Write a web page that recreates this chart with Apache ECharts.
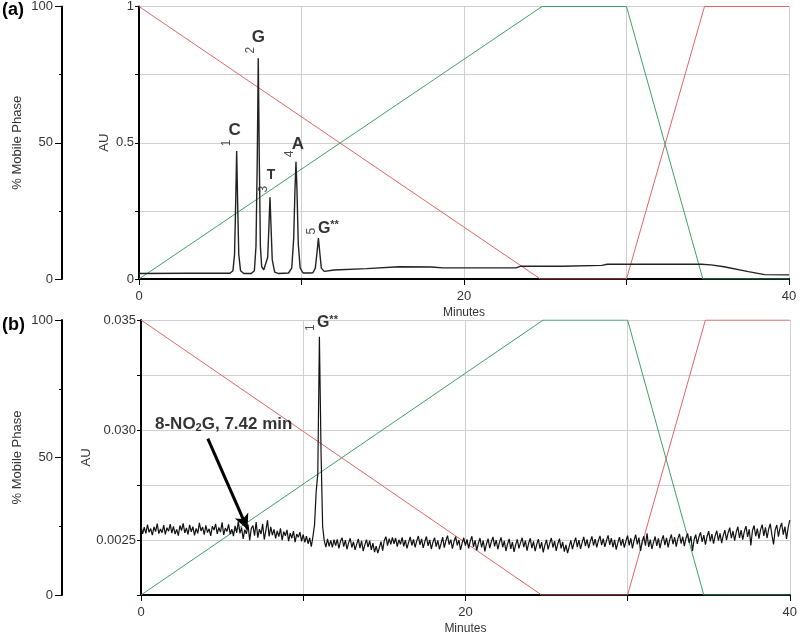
<!DOCTYPE html>
<html>
<head>
<meta charset="utf-8">
<script src="https://cdn.jsdelivr.net/npm/echarts@6/dist/echarts.min.js"></script>
<style>
html,body{margin:0;padding:0;background:#fff;}
#c{width:800px;height:636px;}
</style>
</head>
<body>
<div id="c"></div>
<script>
// ---------- DATA ----------
// Mobile-phase gradient (% of mobile phase vs minutes)
const gradRed   = [[0,100],[24.7,0],[30,0],[34.8,100],[40,100]];
const gradGreen = [[0,0],[24.8,100],[30,100],[34.7,0],[40,0]];

// Panel (a) chromatogram, [minutes, AU]
const traceA = [
 [0,0.020],[3,0.021],[5.6,0.021],[5.78,0.030],[5.88,0.090],[5.95,0.280],[6.01,0.470],[6.07,0.280],[6.14,0.090],[6.25,0.030],[6.45,0.020],
 [6.9,0.020],[7.1,0.030],[7.2,0.120],[7.28,0.450],[7.34,0.810],[7.40,0.450],[7.47,0.120],[7.55,0.045],[7.68,0.034],
 [7.8,0.036],[7.92,0.080],[8.0,0.200],[8.06,0.300],[8.12,0.200],[8.2,0.070],[8.35,0.025],[8.6,0.020],
 [9.2,0.022],[9.4,0.040],[9.52,0.150],[9.6,0.330],[9.66,0.430],[9.72,0.330],[9.8,0.130],[9.92,0.040],[10.1,0.022],[10.5,0.022],
 [10.7,0.023],[10.85,0.040],[10.96,0.100],[11.04,0.150],[11.12,0.100],[11.22,0.040],[11.4,0.028],[12,0.033],
 [14,0.038],[16,0.045],[18,0.044],[18.7,0.041],[23.2,0.041],[23.5,0.047],[26,0.047],[28.5,0.050],[28.8,0.054],[34.6,0.054],
 [35.2,0.052],[36,0.045],[37.5,0.027],[38.5,0.016],[40,0.015]
];
const peakTimeA   = [6.01, 7.34, 8.06, 9.66, 11.04];
const peakHeightA = [0.47, 0.81, 0.30, 0.43, 0.15];
const peakNameA   = ['C', 'G', 'T', 'A', 'G**'];
const peakNumA    = ['1', '2', '3', '4', '5'];

// Panel (b) chromatogram, AU sampled every 0.1 min from 0 to 40
const traceBStep = 0.1;
const traceB = [
 0.02565,0.02528,0.02558,0.02530,0.02570,0.02535,0.02552,0.02522,0.02560,0.02538,0.02575,0.02529,0.02550,0.02533,0.02568,0.02526,0.02556,0.02540,0.02572,0.02531,
 0.02562,0.02527,0.02548,0.02520,0.02566,0.02543,0.02576,0.02532,0.02555,0.02525,0.02569,0.02537,0.02561,0.02521,0.02553,0.02530,0.02578,0.02541,0.02559,0.02524,
 0.02567,0.02534,0.02551,0.02519,0.02563,0.02545,0.02573,0.02528,0.02557,0.02536,0.02580,0.02523,0.02554,0.02539,0.02571,0.02527,0.02549,0.02518,0.02564,0.02533,
 0.02585,0.02530,0.02556,0.02505,0.02547,0.02528,0.02570,0.02498,0.02552,0.02566,0.02520,0.02582,0.02511,0.02549,0.02527,0.02574,0.02502,0.02544,0.02590,0.02516,
 0.02560,0.02522,0.02548,0.02507,0.02541,0.02515,0.02553,0.02499,0.02538,0.02519,0.02546,0.02495,0.02531,0.02508,0.02540,0.02490,0.02527,0.02512,0.02536,0.02494,
 0.02525,0.02489,0.02518,0.02483,0.02510,0.02470,0.02515,0.02570,0.02720,0.02800,0.03424,0.02900,0.02560,0.02496,0.02468,0.02505,0.02471,0.02498,0.02466,0.02502,
 0.02475,0.02503,0.02462,0.02494,0.02510,0.02470,0.02499,0.02458,0.02487,0.02508,0.02466,0.02492,0.02455,0.02481,0.02505,0.02463,0.02496,0.02450,0.02478,0.02502,
 0.02468,0.02497,0.02455,0.02486,0.02445,0.02472,0.02440,0.02466,0.02493,0.02452,0.02498,0.02515,0.02474,0.02506,0.02480,0.02512,0.02483,0.02509,0.02470,0.02501,
 0.02480,0.02512,0.02471,0.02500,0.02462,0.02489,0.02514,0.02475,0.02503,0.02466,0.02496,0.02518,0.02478,0.02505,0.02464,0.02493,0.02516,0.02473,0.02501,0.02459,
 0.02490,0.02511,0.02470,0.02498,0.02458,0.02484,0.02513,0.02465,0.02497,0.02520,0.02479,0.02502,0.02461,0.02494,0.02515,0.02476,0.02500,0.02455,0.02486,0.02510,
 0.02474,0.02503,0.02462,0.02495,0.02517,0.02469,0.02498,0.02453,0.02485,0.02509,0.02466,0.02497,0.02448,0.02482,0.02506,0.02463,0.02492,0.02514,0.02471,0.02500,
 0.02458,0.02489,0.02512,0.02467,0.02496,0.02450,0.02481,0.02505,0.02460,0.02491,0.02446,0.02479,0.02503,0.02462,0.02488,0.02510,0.02468,0.02497,0.02452,0.02485,
 0.02508,0.02463,0.02494,0.02449,0.02480,0.02504,0.02461,0.02490,0.02444,0.02477,0.02501,0.02457,0.02486,0.02509,0.02466,0.02495,0.02451,0.02483,0.02506,0.02462,
 0.02491,0.02447,0.02478,0.02440,0.02470,0.02498,0.02459,0.02487,0.02511,0.02468,0.02499,0.02460,0.02489,0.02514,0.02472,0.02503,0.02463,0.02494,0.02516,0.02475,
 0.02504,0.02466,0.02497,0.02519,0.02477,0.02506,0.02469,0.02498,0.02521,0.02478,0.02509,0.02467,0.02501,0.02456,0.02488,0.02513,0.02474,0.02505,0.02465,0.02496,
 0.02520,0.02476,0.02508,0.02462,0.02499,0.02524,0.02480,0.02511,0.02450,0.02493,0.02517,0.02474,0.02530,0.02468,0.02502,0.02459,0.02490,0.02516,0.02473,0.02507,
 0.02463,0.02498,0.02521,0.02477,0.02510,0.02466,0.02502,0.02525,0.02481,0.02513,0.02470,0.02506,0.02528,0.02484,0.02515,0.02472,0.02508,0.02530,0.02487,0.02518,
 0.02450,0.02500,0.02524,0.02482,0.02514,0.02535,0.02491,0.02522,0.02479,0.02516,0.02540,0.02494,0.02527,0.02483,0.02519,0.02542,0.02497,0.02530,0.02486,0.02521,
 0.02545,0.02500,0.02533,0.02556,0.02508,0.02541,0.02497,0.02536,0.02560,0.02510,0.02545,0.02502,0.02539,0.02563,0.02514,0.02549,0.02475,0.02543,0.02566,0.02517,
 0.02552,0.02506,0.02547,0.02570,0.02519,0.02557,0.02509,0.02550,0.02574,0.02522,0.02480,0.02546,0.02568,0.02515,0.02555,0.02578,0.02524,0.02561,0.02505,0.02556,
 0.02590
];
const peakTimeB   = [11.0];
const peakHeightB = [0.03424];
const peakNameB   = ['G**'];
const peakNumB    = ['1'];

// Annotation in (b)
const noteAt    = [5.1, 0.03025];
const arrowFrom = [4.12, 0.02961];
const arrowTo   = [6.57, 0.02549];

// Tick labels
const xTickLabels   = [0, 20, 40];
const mpTickLabels  = [0, 50, 100];
const auTickLabelsA = {0: '0', 0.5: '0.5', 1: '1'};
const auTickLabelsB = [[0.035, '0.035'], [0.030, '0.030'], [0.025, '0.0025']];

// ---------- STYLE ----------
const FONT = 'Liberation Sans, Arial, sans-serif';
const RED = '#e06666';
const GREEN = '#3fa066';
const GRID = '#cfcfcf';
const TXT = '#333';

const chart = echarts.init(document.getElementById('c'), null, {renderer: 'canvas'});

function xAxisCfg(gi) {
  return {
    type: 'value', gridIndex: gi, min: 0, max: 40, interval: 10,
    name: 'Minutes', nameLocation: 'middle', nameGap: 28, nameMoveOverlap: false,
    nameTextStyle: {fontFamily: FONT, fontSize: 12, color: TXT},
    axisLine: {show: true, onZero: false, lineStyle: {color: '#000', width: 2}},
    axisTick: {show: true, length: 6, lineStyle: {color: '#000', width: 1}},
    axisLabel: {fontFamily: FONT, fontSize: 13, color: TXT, margin: 11,
      formatter: v => xTickLabels.indexOf(v) >= 0 ? String(v) : ''},
    splitLine: {show: true, lineStyle: {color: GRID, width: 1}}
  };
}
function mpAxisCfg(gi, off) {
  return {
    type: 'value', gridIndex: gi, position: 'left', offset: off, min: 0, max: 100, interval: 50,
    name: '% Mobile Phase', nameLocation: 'middle', nameGap: 38, nameMoveOverlap: false,
    nameTextStyle: {fontFamily: FONT, fontSize: 13, color: TXT},
    axisLine: {show: true, onZero: false, lineStyle: {color: '#000', width: 2}},
    axisTick: {show: true, length: 7, lineStyle: {color: '#000', width: 1}},
    minorTick: {show: true, splitNumber: 2, length: 3, lineStyle: {color: '#000'}},
    axisLabel: {fontFamily: FONT, fontSize: 13, color: TXT, margin: 9,
      formatter: v => mpTickLabels.indexOf(v) >= 0 ? String(v) : ''},
    splitLine: {show: false}
  };
}

// screen-space label offsets [dx, dy] relative to peak apex
const peakLetterOffsetA = [[-2,-21],[0,-21],[1,-22],[2,-18],[10,-10]];
const peakNumOffsetA    = [[-10,-8],[-8,-8],[-6,-8],[-6,-8],[-7,-7]];

const richLetters = {
  b: {fontFamily: FONT, fontSize: 17, fontWeight: 'bold', color: '#000'},
  t: {fontFamily: FONT, fontSize: 14, fontWeight: 'bold', color: '#000'},
  g: {fontFamily: FONT, fontSize: 16, fontWeight: 'bold', color: '#000'},
  s: {fontFamily: FONT, fontSize: 11, fontWeight: 'bold', color: '#000', padding: [0,0,6,0]}
};
function letterFmt(name) {
  if (name === 'G**') return '{g|G}{s|**}';
  if (name === 'T') return '{t|T}';
  return '{b|' + name + '}';
}

function peakLabelSeries(xi, yi, times, heights, names, offsets, rotate) {
  return {
    type: 'scatter', xAxisIndex: xi, yAxisIndex: yi, symbolSize: 0, silent: true, z: 5,
    data: times.map((t, i) => ({
      value: [t, heights[i]],
      label: {
        show: true, position: 'inside',
        // rotated labels take their offset in the rotated frame
        offset: rotate ? [-offsets[i][1], offsets[i][0]] : offsets[i],
        rotate: rotate ? 90 : 0,
        formatter: rotate ? names[i] : letterFmt(names[i]),
        fontFamily: FONT, fontSize: 12, color: '#222', rich: rotate ? undefined : richLetters
      }
    }))
  };
}

const option = {
  animation: false,
  backgroundColor: '#fff',
  grid: [
    {left: 139, right: 11, top: 6, height: 273},
    {left: 141, right: 8, top: 320, height: 276}
  ],
  xAxis: [xAxisCfg(0), xAxisCfg(1)],
  yAxis: [
    {
      type: 'value', gridIndex: 0, position: 'left', min: 0, max: 1, interval: 0.25,
      name: 'AU', nameLocation: 'middle', nameGap: 28, nameMoveOverlap: false,
      nameTextStyle: {fontFamily: FONT, fontSize: 13, color: TXT},
      axisLine: {show: true, onZero: false, lineStyle: {color: '#000', width: 2}},
      axisTick: {show: true, length: 4, lineStyle: {color: '#000'}},
      axisLabel: {fontFamily: FONT, fontSize: 13, color: TXT, margin: 5,
        formatter: v => auTickLabelsA[v] !== undefined ? auTickLabelsA[v] : ''},
      splitLine: {show: true, lineStyle: {color: GRID, width: 1}}
    },
    mpAxisCfg(0, 77),
    {
      type: 'value', gridIndex: 1, position: 'left', min: 0.0225, max: 0.035, interval: 0.0025,
      name: 'AU', nameLocation: 'middle', nameGap: 48, nameMoveOverlap: false,
      nameTextStyle: {fontFamily: FONT, fontSize: 13, color: TXT},
      axisLine: {show: true, onZero: false, lineStyle: {color: '#000', width: 2}},
      axisTick: {show: true, length: 4, lineStyle: {color: '#000'}},
      axisLabel: {fontFamily: FONT, fontSize: 13, color: TXT, margin: 5,
        formatter: v => { const m = auTickLabelsB.find(p => Math.abs(p[0] - v) < 1e-6); return m ? m[1] : ''; }},
      splitLine: {show: true, lineStyle: {color: GRID, width: 1}}
    },
    mpAxisCfg(1, 79)
  ],
  graphic: [
    {type: 'text', left: 2, top: 1, style: {text: '(a)', font: 'bold 18px ' + FONT, fill: '#000'}},
    {type: 'text', left: 2, top: 316, style: {text: '(b)', font: 'bold 18px ' + FONT, fill: '#000'}}
  ],
  series: [
    {type: 'line', xAxisIndex: 0, yAxisIndex: 1, data: gradRed, symbol: 'none', lineStyle: {color: RED, width: 1}, silent: true, z: 2},
    {type: 'line', xAxisIndex: 0, yAxisIndex: 1, data: gradGreen, symbol: 'none', lineStyle: {color: GREEN, width: 1}, silent: true, z: 2},
    {type: 'line', xAxisIndex: 0, yAxisIndex: 0, data: traceA, symbol: 'none', lineStyle: {color: '#222', width: 1.4}, silent: true, z: 3},
    peakLabelSeries(0, 0, peakTimeA, peakHeightA, peakNameA, peakLetterOffsetA, false),
    peakLabelSeries(0, 0, peakTimeA, peakHeightA, peakNumA, peakNumOffsetA, true),

    {type: 'line', xAxisIndex: 1, yAxisIndex: 3, data: gradRed, symbol: 'none', lineStyle: {color: RED, width: 1}, silent: true, z: 2},
    {type: 'line', xAxisIndex: 1, yAxisIndex: 3, data: gradGreen, symbol: 'none', lineStyle: {color: GREEN, width: 1}, silent: true, z: 2},
    {
      type: 'line', xAxisIndex: 1, yAxisIndex: 2, symbol: 'none', silent: true, z: 3,
      data: traceB.map((v, i) => [+(i * traceBStep).toFixed(1), v]),
      lineStyle: {color: '#111', width: 1.2},
      markLine: {
        silent: true, symbol: ['none', 'arrow'], symbolSize: [11, 15],
        lineStyle: {color: '#000', width: 3, type: 'solid'},
        label: {show: false},
        data: [[{coord: arrowFrom}, {coord: arrowTo}]]
      }
    },
    peakLabelSeries(1, 2, peakTimeB, peakHeightB, peakNameB, [[8,-14]], false),
    peakLabelSeries(1, 2, peakTimeB, peakHeightB, peakNumB, [[-9,-9]], true),
    {
      type: 'scatter', xAxisIndex: 1, yAxisIndex: 2, symbolSize: 0, silent: true, z: 6,
      data: [{
        value: noteAt,
        label: {
          show: true, position: 'inside',
          formatter: '{b|8-NO}{sub|2}{b|G, 7.42 min}',
          rich: {
            b: {fontFamily: FONT, fontSize: 17, fontWeight: 'bold', color: '#000'},
            sub: {fontFamily: FONT, fontSize: 11, fontWeight: 'bold', color: '#000', padding: [7,0,0,0]}
          }
        }
      }]
    }
  ]
};
chart.setOption(option);
</script>
</body>
</html>
